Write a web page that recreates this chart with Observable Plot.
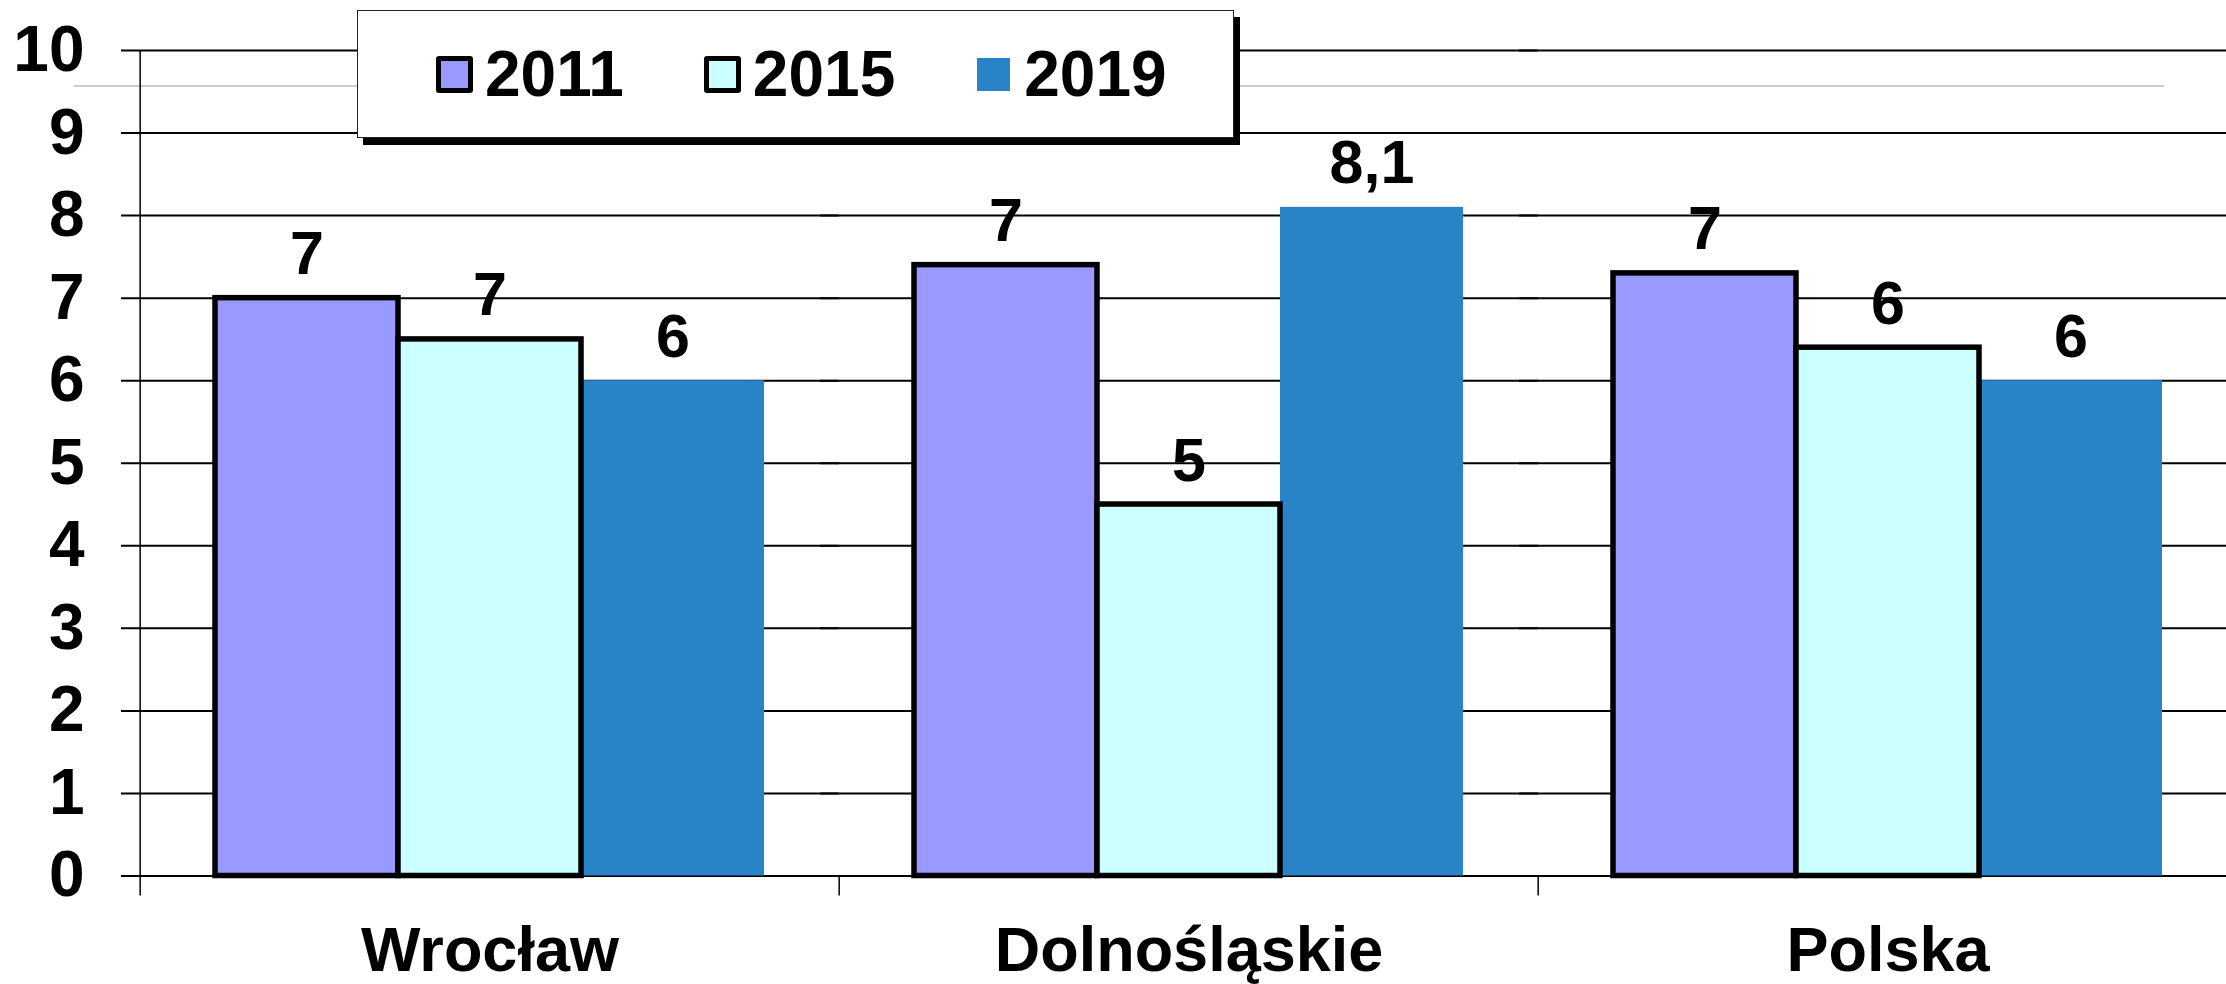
<!DOCTYPE html>
<html>
<head>
<meta charset="utf-8">
<script src="https://cdn.jsdelivr.net/npm/d3@7"></script>
<script src="https://cdn.jsdelivr.net/npm/@observablehq/plot@0.6"></script>
<style>
  html, body { margin: 0; padding: 0; background: #fff; overflow: hidden; }
  #wrap { position: relative; width: 2226px; height: 984px; font-family: "Liberation Sans", Arial, sans-serif; }
  #legend {
    position: absolute; left: 357px; top: 10px; width: 877px; height: 128px;
    background: #fff; border: 1.5px solid #222; box-shadow: 6px 7px 0 #000;
    display: flex; align-items: center; padding-left: 78px; box-sizing: border-box;
  }
  .item { display: flex; align-items: center; margin-right: 80px; }
  .sw { width: 37px; height: 37px; box-sizing: border-box; margin-right: 12px; border-radius: 3px; }
  .lab { font-size: 64px; font-weight: bold; color: #000; line-height: 1; }
</style>
</head>
<body>
<div id="wrap"></div>
<script>
const categories = ["Wrocław", "Dolnośląskie", "Polska"];
const years = ["2011", "2015", "2019"];
const values2011 = [7.0, 7.4, 7.3];
const values2015 = [6.5, 4.5, 6.4];
const values2019 = [6.0, 8.1, 6.0];
const labels2011 = ["7", "7", "7"];
const labels2015 = ["7", "5", "6"];
const labels2019 = ["6", "8,1", "6"];
const yTicks = [0, 1, 2, 3, 4, 5, 6, 7, 8, 9, 10];
const colors = ["#9999FF", "#CCFFFF", "#2983C7"];
const outlinedYears = ["2011", "2015"];
const strayLine = [9.57];

const series = [values2011, values2015, values2019];
const labelSeries = [labels2011, labels2015, labels2019];
const rows = categories.flatMap((c, i) =>
  years.map((y, j) => ({category: c, year: y, value: series[j][i], label: labelSeries[j][i]}))
);

const W = 2226, H = 984, mL = 139, mR = -12, mT = 50, mB = 108.5;
const facetWidth = (W - mL - mR) / categories.length;
const yMin = yTicks[0], yMax = yTicks[yTicks.length - 1];
const font = "'Liberation Sans', Arial, sans-serif";

const chart = Plot.plot({
  width: W, height: H,
  marginLeft: mL, marginRight: mR, marginTop: mT, marginBottom: mB,
  style: {fontFamily: font, background: "#fff", color: "#000"},
  fx: {domain: categories, padding: 0},
  x: {domain: years, paddingInner: 0, paddingOuter: 0.4, axis: null},
  y: {domain: [yMin, yMax]},
  color: {domain: years, range: colors},
  marks: [
    Plot.ruleY(yTicks, {stroke: "#000", strokeWidth: 2, insetLeft: -19}),
    Plot.ruleY(categories.slice(0, 2), {fx: d => d, y: () => strayLine[0], stroke: "#9a9a9a", strokeWidth: 1.2, insetLeft: -66}),
    Plot.ruleY(categories.slice(2), {fx: d => d, y: () => strayLine[0], stroke: "#9a9a9a", strokeWidth: 1.2, insetRight: 73}),
    Plot.ruleX([categories[0]], {fx: d => d, x: null, y1: yMax, y2: yMin, insetBottom: -20, dx: -facetWidth / 2, stroke: "#000", strokeWidth: 1.5}),
    Plot.ruleX(categories.slice(1), {fx: d => d, x: null, y1: yMin, y2: yMin, insetBottom: -20, dx: -facetWidth / 2, stroke: "#000", strokeWidth: 1.5}),
    Plot.barY(rows, {filter: d => !outlinedYears.includes(d.year), fx: "category", x: "year", y: "value", fill: "year"}),
    Plot.barY(rows, {filter: d => outlinedYears.includes(d.year), fx: "category", x: "year", y: "value", fill: "year", stroke: "#000", strokeWidth: 5.5}),
    Plot.text(rows, {fx: "category", x: "year", y: "value", text: "label", lineAnchor: "bottom", dy: -24, fontSize: 61, fontWeight: "bold", fill: "#000"}),
    Plot.axisY({ticks: yTicks, tickSize: 0, tickPadding: 56, fontSize: 64, fontWeight: "bold", tickFormat: d => String(d), label: null, fill: "#000"}),
    Plot.axisFx({anchor: "bottom", tickSize: 0, tickPadding: 50, fontSize: 63, fontWeight: "bold", label: null, fill: "#000"})
  ]
});

const wrap = document.getElementById("wrap");
wrap.appendChild(chart);

const legend = document.createElement("div");
legend.id = "legend";
years.forEach((y, i) => {
  const item = document.createElement("div");
  item.className = "item";
  const sw = document.createElement("div");
  sw.className = "sw";
  sw.style.background = colors[i];
  if (outlinedYears.includes(y)) {
    sw.style.border = "5px solid #000";
  } else {
    sw.style.width = "33px"; sw.style.height = "33px";
    sw.style.margin = "0 14px 0 2px"; sw.style.borderRadius = "0";
  }
  const lab = document.createElement("span");
  lab.className = "lab";
  lab.textContent = y;
  item.appendChild(sw);
  item.appendChild(lab);
  legend.appendChild(item);
});
wrap.appendChild(legend);
</script>
</body>
</html>
